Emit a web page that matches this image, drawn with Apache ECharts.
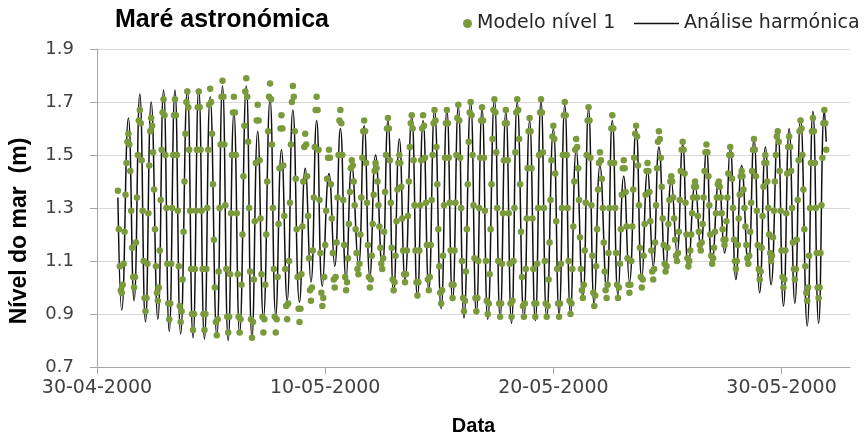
<!DOCTYPE html>
<html>
<head>
<meta charset="utf-8">
<script src="https://cdn.jsdelivr.net/npm/echarts@6/dist/echarts.min.js"></script>
<style>
  html, body { margin: 0; padding: 0; background: #fff; }
  #chart { width: 864px; height: 441px; }
</style>
</head>
<body>
<div id="chart"></div>
<script>
// horas contadas a partir de 30-04-2000 00:00
const tickHours = [0, 240, 480, 720];
const yTicks = [0.7, 0.9, 1.1, 1.3, 1.5, 1.7, 1.9];

// Análise harmónica: extremos (baixa-mar / preia-mar)
const lineHours = [22,
  26, 33, 39, 45, 51, 57, 64, 70, 76, 82, 88, 95, 101, 107, 113, 119, 126, 132, 138, 144,
  150, 157, 163, 169, 175, 182, 188, 194, 200, 206, 213, 219, 225, 231, 237, 244, 250, 256, 262, 268,
  275, 281, 287, 293, 300, 306, 312, 318, 324, 331, 337, 343, 349, 355, 362, 368, 374, 380, 386, 393,
  399, 405, 411, 418, 424, 430, 436, 442, 449, 455, 461, 467, 473, 480, 486, 492, 498, 504, 511, 517,
  523, 529, 536, 542, 548, 554, 560, 567, 573, 579, 585, 591, 598, 604, 610, 616, 622, 629, 635, 641,
  647, 654, 660, 666, 672, 678, 685, 691, 697, 703, 709, 716, 722, 728, 734, 740, 747, 753, 759, 765,
  767];
const lineLevels = [1.34,
  0.915, 1.64, 0.95, 1.73, 0.87, 1.70, 0.88, 1.745, 0.835, 1.745, 0.825, 1.75, 0.81, 1.75, 0.805, 1.72, 0.815, 1.76, 0.80, 1.66,
  0.825, 1.76, 0.81, 1.59, 0.885, 1.71, 0.895, 1.52, 0.95, 1.67, 0.945, 1.45, 1.02, 1.63, 1.005, 1.43, 1.08, 1.60, 1.03, 1.46,
  1.08, 1.61, 1.04, 1.50, 1.07, 1.63, 0.98, 1.56, 1.03, 1.645, 0.96, 1.63, 0.99, 1.67, 0.92, 1.67, 0.95, 1.685, 0.885, 1.70,
  0.90, 1.675, 0.88, 1.71, 0.885, 1.665, 0.865, 1.70, 0.88, 1.63, 0.875, 1.705, 0.885, 1.60, 0.90, 1.69, 0.90, 1.52, 0.96, 1.675,
  0.935, 1.46, 0.99, 1.63, 0.97, 1.42, 1.02, 1.60, 1.03, 1.44, 1.08, 1.53, 1.06, 1.405, 1.13, 1.54, 1.07, 1.39, 1.14, 1.52,
  1.08, 1.405, 1.13, 1.53, 1.03, 1.46, 1.08, 1.56, 0.98, 1.53, 1.01, 1.60, 0.93, 1.60, 0.94, 1.64, 0.855, 1.665, 0.865, 1.67,
  1.55];

// Modelo nível 1: valores horários a partir da hora 22
const dotStartHour = 22;
const dotLevels = [
  1.365, 1.22, 1.08, 0.99,
  0.98, 1.01, 1.09, 1.21, 1.35, 1.47, 1.55, 1.58, 1.54, 1.44, 1.29, 1.15, 1.04,
  1.00, 1.04, 1.17, 1.34, 1.50, 1.63, 1.67, 1.62, 1.48, 1.29, 1.10, 0.96,
  0.91, 0.96, 1.09, 1.28, 1.46, 1.59, 1.64, 1.61, 1.51, 1.37, 1.22, 1.08, 0.98,
  0.95, 1.00, 1.14, 1.33, 1.52, 1.66, 1.71, 1.65, 1.50, 1.30, 1.09, 0.94,
  0.88, 0.94, 1.09, 1.30, 1.50, 1.65, 1.71, 1.65, 1.50, 1.29, 1.08, 0.93,
  0.87, 0.91, 1.03, 1.21, 1.40, 1.58, 1.70, 1.74, 1.68, 1.52, 1.29, 1.07, 0.90,
  0.84, 0.90, 1.07, 1.29, 1.52, 1.68, 1.74, 1.68, 1.52, 1.29, 1.07, 0.90,
  0.84, 0.90, 1.07, 1.30, 1.52, 1.69, 1.75, 1.70, 1.58, 1.39, 1.18, 1.00, 0.87,
  0.82, 0.88, 1.06, 1.30, 1.54, 1.72, 1.78, 1.72, 1.54, 1.31, 1.07, 0.89,
  0.83, 0.89, 1.05, 1.28, 1.50, 1.66, 1.72, 1.66, 1.50, 1.28, 1.05, 0.89,
  0.83, 0.88, 1.01, 1.20, 1.42, 1.61, 1.74, 1.79, 1.72, 1.55, 1.30, 1.06, 0.88,
  0.81, 0.87, 1.03, 1.25, 1.47, 1.63, 1.69, 1.63, 1.48, 1.26, 1.05, 0.89,
  0.83, 0.88, 1.01, 1.20, 1.40, 1.59, 1.72, 1.77, 1.71, 1.54, 1.30, 1.07, 0.89,
  0.83, 0.88, 1.04, 1.24, 1.45, 1.60, 1.65, 1.60, 1.46, 1.27, 1.07, 0.93,
  0.88, 0.94, 1.10, 1.32, 1.54, 1.70, 1.76, 1.72, 1.59, 1.41, 1.22, 1.04, 0.92,
  0.87, 0.92, 1.05, 1.23, 1.40, 1.53, 1.58, 1.54, 1.42, 1.27, 1.11, 0.99,
  0.95, 1.00, 1.14, 1.34, 1.53, 1.67, 1.72, 1.67, 1.52, 1.33, 1.13, 0.98,
  0.93, 0.96, 1.04, 1.16, 1.29, 1.41, 1.49, 1.52, 1.49, 1.39, 1.26, 1.13, 1.03,
  1.00, 1.04, 1.17, 1.34, 1.50, 1.63, 1.67, 1.62, 1.50, 1.33, 1.16, 1.04,
  0.99, 1.02, 1.11, 1.24, 1.36, 1.45, 1.48, 1.46, 1.40, 1.31, 1.22, 1.13, 1.07,
  1.05, 1.09, 1.20, 1.34, 1.49, 1.59, 1.63, 1.59, 1.47, 1.32, 1.16, 1.04,
  1.00, 1.03, 1.12, 1.24, 1.35, 1.44, 1.47, 1.45, 1.40, 1.31, 1.23, 1.15, 1.09,
  1.07, 1.11, 1.21, 1.36, 1.50, 1.60, 1.64, 1.60, 1.48, 1.32, 1.15, 1.03,
  0.99, 1.02, 1.12, 1.25, 1.37, 1.47, 1.50, 1.47, 1.38, 1.26, 1.14, 1.05,
  1.02, 1.05, 1.14, 1.27, 1.40, 1.53, 1.62, 1.65, 1.60, 1.48, 1.31, 1.14, 1.02,
  0.97, 1.02, 1.14, 1.31, 1.48, 1.60, 1.65, 1.61, 1.49, 1.32, 1.16, 1.03,
  0.99, 1.04, 1.16, 1.33, 1.50, 1.62, 1.67, 1.63, 1.53, 1.39, 1.22, 1.08, 0.98,
  0.94, 0.99, 1.12, 1.31, 1.49, 1.62, 1.67, 1.62, 1.49, 1.32, 1.14, 1.01,
  0.96, 1.01, 1.14, 1.32, 1.50, 1.64, 1.69, 1.63, 1.49, 1.30, 1.10, 0.96,
  0.91, 0.95, 1.06, 1.22, 1.39, 1.55, 1.66, 1.70, 1.65, 1.50, 1.31, 1.11, 0.96,
  0.91, 0.96, 1.10, 1.30, 1.49, 1.63, 1.68, 1.63, 1.49, 1.29, 1.10, 0.95,
  0.90, 0.94, 1.05, 1.22, 1.39, 1.56, 1.67, 1.71, 1.66, 1.51, 1.30, 1.10, 0.94,
  0.89, 0.94, 1.09, 1.28, 1.48, 1.62, 1.67, 1.62, 1.48, 1.28, 1.09, 0.94,
  0.89, 0.95, 1.10, 1.30, 1.51, 1.66, 1.71, 1.67, 1.56, 1.39, 1.21, 1.04, 0.93,
  0.89, 0.94, 1.07, 1.26, 1.45, 1.59, 1.64, 1.59, 1.45, 1.26, 1.07, 0.94,
  0.89, 0.94, 1.09, 1.30, 1.50, 1.66, 1.71, 1.66, 1.51, 1.30, 1.10, 0.94,
  0.89, 0.93, 1.03, 1.17, 1.33, 1.48, 1.57, 1.61, 1.56, 1.43, 1.25, 1.07, 0.94,
  0.89, 0.94, 1.09, 1.30, 1.50, 1.65, 1.70, 1.65, 1.50, 1.30, 1.10, 0.95,
  0.90, 0.94, 1.07, 1.23, 1.40, 1.52, 1.56, 1.53, 1.45, 1.33, 1.19, 1.07, 0.99,
  0.96, 1.01, 1.14, 1.32, 1.50, 1.63, 1.68, 1.63, 1.49, 1.31, 1.12, 0.98,
  0.93, 0.97, 1.08, 1.22, 1.37, 1.47, 1.51, 1.48, 1.41, 1.30, 1.17, 1.06, 0.99,
  0.96, 1.01, 1.13, 1.30, 1.47, 1.60, 1.65, 1.60, 1.47, 1.30, 1.13, 1.01,
  0.96, 1.00, 1.09, 1.22, 1.35, 1.45, 1.48, 1.45, 1.36, 1.23, 1.11, 1.01,
  0.98, 1.01, 1.10, 1.23, 1.37, 1.49, 1.58, 1.61, 1.57, 1.46, 1.31, 1.15, 1.04,
  1.00, 1.03, 1.12, 1.24, 1.35, 1.44, 1.47, 1.44, 1.36, 1.25, 1.14, 1.06,
  1.03, 1.07, 1.17, 1.31, 1.45, 1.55, 1.59, 1.56, 1.49, 1.38, 1.26, 1.16, 1.09,
  1.06, 1.08, 1.15, 1.24, 1.33, 1.40, 1.42, 1.40, 1.34, 1.26, 1.18, 1.12,
  1.10, 1.13, 1.21, 1.33, 1.44, 1.52, 1.55, 1.52, 1.43, 1.32, 1.20, 1.11,
  1.08, 1.10, 1.14, 1.20, 1.28, 1.34, 1.38, 1.40, 1.38, 1.34, 1.27, 1.21, 1.16,
  1.14, 1.17, 1.24, 1.34, 1.44, 1.51, 1.54, 1.51, 1.42, 1.31, 1.20, 1.12,
  1.09, 1.11, 1.15, 1.21, 1.28, 1.34, 1.39, 1.40, 1.38, 1.34, 1.28, 1.22, 1.18,
  1.16, 1.18, 1.25, 1.34, 1.43, 1.50, 1.53, 1.50, 1.41, 1.30, 1.18, 1.10,
  1.07, 1.10, 1.16, 1.26, 1.35, 1.42, 1.44, 1.42, 1.37, 1.30, 1.23, 1.16, 1.11,
  1.09, 1.12, 1.21, 1.32, 1.44, 1.52, 1.56, 1.52, 1.42, 1.29, 1.16, 1.07,
  1.03, 1.06, 1.15, 1.27, 1.38, 1.47, 1.50, 1.47, 1.40, 1.30, 1.20, 1.13,
  1.10, 1.12, 1.19, 1.29, 1.40, 1.50, 1.57, 1.59, 1.55, 1.44, 1.29, 1.14, 1.04,
  1.00, 1.03, 1.14, 1.28, 1.43, 1.53, 1.57, 1.53, 1.44, 1.30, 1.17, 1.07,
  1.03, 1.07, 1.18, 1.33, 1.48, 1.59, 1.63, 1.60, 1.50, 1.37, 1.22, 1.08, 0.98,
  0.95, 1.00, 1.12, 1.30, 1.47, 1.59, 1.64, 1.59, 1.47, 1.30, 1.13, 1.00,
  0.96, 1.00, 1.13, 1.31, 1.49, 1.62, 1.67, 1.62, 1.52
];

const green = '#7a9a3c';
const labelFont = 'DejaVu Sans';
const boldFont = 'Liberation Sans';

function fmtDate(h) {
  const d = new Date(Date.UTC(2000, 3, 30) + h * 3600000);
  const dd = String(d.getUTCDate()).padStart(2, '0');
  const mm = String(d.getUTCMonth() + 1).padStart(2, '0');
  return dd + '-' + mm + '-' + d.getUTCFullYear();
}

const chart = echarts.init(document.getElementById('chart'), null, { renderer: 'canvas' });
const option = {
  animation: false,
  backgroundColor: '#fff',
  title: {
    text: 'Maré astronómica',
    left: 115,
    top: 8,
    padding: 0,
    textStyle: { fontFamily: boldFont, fontSize: 25, fontWeight: 'bold', color: '#000' }
  },
  legend: [
    {
      data: ['Modelo nível 1'],
      left: 463, top: 14, padding: 0,
      icon: 'circle', itemWidth: 9, itemHeight: 9,
      textStyle: { fontFamily: labelFont, fontSize: 19, color: '#262626' }
    },
    {
      data: ['Análise harmónica'],
      left: 634, top: 14, padding: 0,
      icon: 'rect', itemWidth: 45, itemHeight: 1.5,
      textStyle: { fontFamily: labelFont, fontSize: 19, color: '#262626' }
    }
  ],
  grid: { left: 96, right: 14, top: 49, bottom: 64 },
  xAxis: {
    type: 'value',
    min: 0,
    max: 792,
    interval: 240,
    name: 'Data',
    nameLocation: 'middle',
    nameGap: 49,
    nameTextStyle: { fontFamily: boldFont, fontSize: 20, fontWeight: 'bold', color: '#000' },
    axisLine: { show: true, lineStyle: { color: '#a6a6a6', width: 1 } },
    axisTick: { show: true, length: 7, customValues: tickHours, lineStyle: { color: '#a6a6a6' } },
    axisLabel: {
      customValues: tickHours,
      margin: 12,
      fontFamily: labelFont, fontSize: 19, color: '#404040',
      formatter: fmtDate
    },
    splitLine: { show: false }
  },
  yAxis: {
    type: 'value',
    min: 0.7,
    max: 1.9,
    interval: 0.2,
    name: 'Nível do mar  (m)',
    nameLocation: 'middle',
    nameGap: 66,
    nameTextStyle: {
      fontFamily: boldFont, fontSize: 23, fontWeight: 'bold', color: '#000',
      padding: [0, 46, 0, 0]
    },
    axisLine: { show: true, lineStyle: { color: '#a6a6a6', width: 1 } },
    axisTick: { show: true, length: 7, lineStyle: { color: '#a6a6a6' } },
    axisLabel: {
      margin: 23,
      fontFamily: labelFont, fontSize: 18, color: '#404040',
      formatter: v => yTicks.includes(+v.toFixed(1)) ? v.toFixed(1) : ''
    },
    splitLine: { show: true, lineStyle: { color: '#d9d9d9', width: 1 } }
  },
  series: [
    {
      name: 'Modelo nível 1',
      type: 'scatter',
      symbol: 'circle',
      symbolSize: 6.5,
      z: 3,
      itemStyle: { color: green, opacity: 1 },
      data: dotLevels.map((v, i) => [dotStartHour + i, v])
    },
    {
      name: 'Análise harmónica',
      type: 'line',
      symbol: 'none',
      showSymbol: false,
      smooth: 0.5,
      z: 2,
      itemStyle: { color: '#111' },
      lineStyle: { color: '#111', width: 1.5 },
      data: lineHours.map((h, i) => [h, lineLevels[i]])
    }
  ]
};
chart.setOption(option);
</script>
</body>
</html>
